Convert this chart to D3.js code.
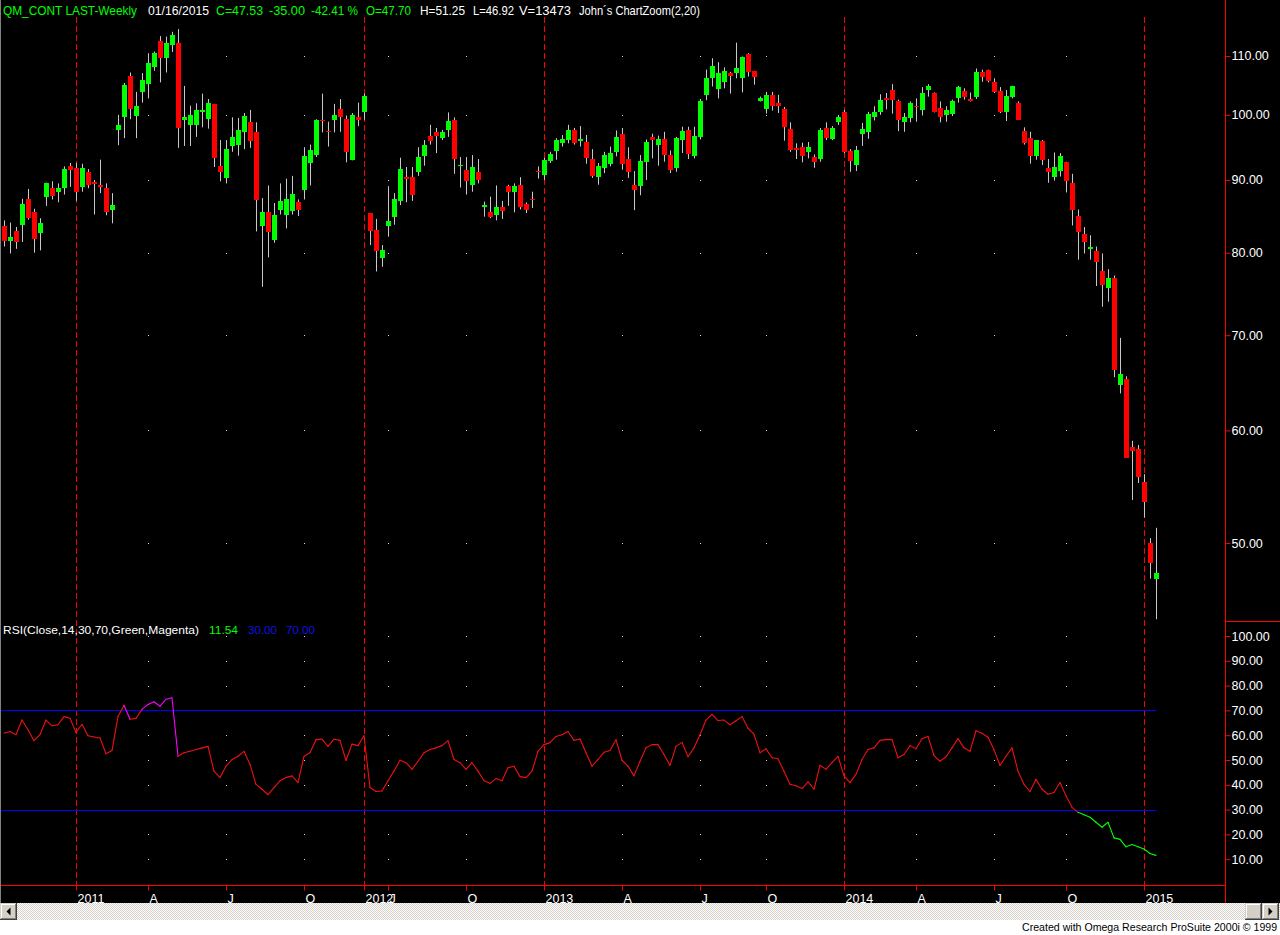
<!DOCTYPE html>
<html><head><meta charset="utf-8">
<script src="https://cdn.jsdelivr.net/npm/d3@7"></script>
<style>
html,body{margin:0;padding:0;background:#fff;overflow:hidden;}
svg{display:block;}
text{font-family:"Liberation Sans",Arial,sans-serif;}
</style></head><body>
<svg id="chart" width="1280" height="935"></svg>
<script>
// ---- weekly OHLC (QM continuous, Oct 2010 - Jan 2015) ----
const opens=[83.6,81.5,82.8,83.7,87.2,85.4,82.6,87.5,88.9,88.3,88.8,92.0,91.8,89.0,91.2,89.7,89.3,88.9,85.7,97.6,
99.6,106.5,99.8,103.8,105.1,108.1,112.7,109.6,111.9,112.4,99.1,98.4,98.4,100.4,99.4,101.8,92.0,90.3,95.1,95.3,
97.3,98.9,97.2,83.5,85.4,81.6,85.7,85.1,85.6,86.9,88.5,92.5,93.7,99.2,97.5,99.1,100.9,99.4,93.0,99.7,
100.5,85.3,83.0,79.3,83.5,84.8,87.0,90.4,90.5,91.1,93.5,96.7,97.2,96.3,97.6,99.2,92.1,91.5,89.2,91.1,
86.2,85.4,85.1,86.2,89.1,88.2,89.3,86.5,87.3,91.3,90.7,92.8,94.3,95.6,96.0,97.6,95.8,95.7,93.1,90.5,
91.7,92.3,94.2,97.0,93.1,89.3,89.1,92.6,96.5,95.3,96.1,93.7,91.8,96.0,97.6,93.6,96.5,103.2,106.1,104.3,
105.5,107.0,107.0,106.1,110.4,107.3,102.3,100.9,103.3,102.0,100.9,97.7,94.8,94.9,94.1,93.4,93.1,97.9,96.2,98.8,
100.4,94.3,92.2,97.0,97.3,99.6,100.4,102.7,104.1,102.3,98.9,99.5,101.4,100.8,104.1,103.6,101.1,99.9,100.1,102.7,
104.0,102.6,102.9,107.1,107.6,105.5,104.0,100.5,102.9,102.0,97.4,96.3,93.6,95.9,91.8,90.4,91.3,92.6,89.6,84.9,
82.5,80.5,80.2,77.7,75.5,76.8,64.6,65.2,58.4,58.2,55.2,50.0,47.2];
const highs=[84.3,84.0,83.4,87.3,88.7,85.9,84.6,89.6,89.8,89.5,92.0,92.5,92.5,92.4,91.6,90.0,93.0,89.5,88.1,100.0,
105.3,107.1,103.8,107.0,110.5,110.8,113.6,113.5,114.4,114.9,104.8,101.5,101.9,103.5,102.6,101.8,96.0,96.0,99.6,99.5,
100.3,100.8,98.8,87.4,89.2,86.7,89.5,90.2,90.6,87.2,94.9,95.3,99.3,103.5,98.9,101.8,102.6,99.9,100.3,102.0,
103.5,85.3,84.5,81.0,89.1,88.1,93.3,91.9,91.9,94.9,96.0,98.4,97.9,97.6,100.4,99.6,93.4,93.4,93.7,93.1,
86.9,87.6,89.2,87.0,89.3,89.5,90.4,86.8,88.3,92.0,93.3,94.2,96.3,96.8,98.4,97.9,98.2,96.8,94.6,92.5,
94.2,95.0,97.5,97.9,94.9,91.3,93.7,96.1,97.0,96.7,97.3,94.4,96.5,98.1,98.1,98.1,102.6,107.6,109.6,108.9,
108.0,107.2,112.4,109.9,110.5,107.4,103.0,103.8,103.8,103.3,101.3,98.8,95.5,95.6,95.7,93.8,97.9,98.8,98.2,100.0,
100.8,94.6,95.1,98.7,100.5,101.4,103.4,103.6,105.1,102.5,100.3,102.2,102.7,104.6,105.1,103.7,102.2,101.4,102.5,104.8,
104.4,103.7,107.8,107.6,107.6,106.1,104.6,104.1,104.8,102.2,98.0,97.3,96.0,96.0,93.1,94.1,94.0,92.7,90.9,85.8,
83.4,82.3,80.8,79.9,77.9,77.1,69.7,65.5,59.0,58.6,55.9,50.4,51.25];
const lows=[80.8,79.9,80.5,81.4,84.4,80.0,80.3,86.3,87.2,86.8,87.9,89.0,87.0,88.3,88.8,85.1,88.1,85.0,83.9,95.2,
96.3,99.3,96.3,102.0,102.7,107.4,105.4,107.1,110.7,94.8,95.1,95.1,96.5,98.0,97.8,91.9,89.8,89.5,94.2,93.6,
94.6,94.8,82.8,75.7,79.4,81.3,85.1,83.2,85.1,84.9,87.2,89.2,93.4,97.2,95.0,97.2,97.3,92.6,92.9,98.2,
99.2,81.0,77.6,78.2,82.1,83.7,86.4,86.8,87.0,90.6,92.1,95.3,94.0,96.0,96.5,90.9,88.9,87.9,88.3,89.5,
84.8,84.6,84.3,84.5,86.3,85.4,85.8,85.3,86.0,90.2,90.0,92.5,93.0,95.0,95.5,95.3,95.0,92.4,90.3,89.3,
91.0,92.0,93.5,91.5,90.3,85.7,87.8,90.0,93.2,92.1,92.7,91.0,91.2,94.0,93.1,93.2,96.1,102.4,104.7,102.7,
104.4,103.5,106.1,103.7,106.4,105.0,102.2,100.2,100.7,100.3,95.9,94.2,93.1,92.6,93.2,91.8,92.7,96.0,96.0,98.4,
94.0,91.2,91.3,95.1,96.2,99.1,100.0,100.9,100.2,97.4,97.3,98.8,98.9,99.9,103.0,100.4,98.8,98.9,99.8,102.0,
102.5,102.2,102.6,105.5,105.4,103.6,100.3,99.0,102.7,99.2,95.3,92.4,93.0,92.2,89.6,89.9,90.5,88.2,83.6,79.1,
79.9,79.1,75.8,73.3,73.9,65.4,63.7,57.4,53.6,55.1,52.1,47.2,44.2];
const closes=[81.5,82.1,81.4,86.5,84.6,81.8,84.0,89.5,87.7,88.8,91.6,91.4,88.3,91.8,89.2,89.4,89.0,85.4,86.4,98.4,
104.9,101.0,101.5,105.8,108.7,110.5,109.6,112.4,113.8,97.9,99.7,100.0,100.8,100.8,101.9,93.2,91.1,94.6,96.5,97.6,
99.8,95.9,87.1,85.5,82.7,85.1,87.0,87.3,88.0,85.7,93.5,94.5,99.2,99.0,97.4,100.0,99.6,94.1,100.0,99.1,
103.1,82.9,80.2,80.4,84.2,87.2,91.6,90.1,87.9,93.4,95.3,95.9,96.7,97.2,99.0,93.1,92.2,89.9,91.9,90.0,
86.4,84.8,86.2,85.6,88.3,89.1,86.2,85.7,87.1,91.2,93.0,93.9,96.0,96.1,97.6,95.6,96.1,93.3,90.6,92.0,
93.7,94.0,96.5,92.4,91.1,88.6,92.8,95.7,96.0,96.1,93.7,91.5,96.3,97.5,93.9,96.7,102.2,106.1,108.3,107.0,
107.4,106.5,107.9,109.8,107.2,106.3,102.8,103.3,101.4,101.4,98.0,94.5,94.4,93.6,94.9,92.7,97.6,96.3,97.9,99.6,
94.2,92.8,94.5,97.8,100.2,100.5,102.5,102.5,102.5,99.1,99.6,102.0,101.2,103.6,104.7,100.5,99.7,100.8,102.3,104.6,
102.9,102.2,107.1,106.4,105.7,103.8,100.5,103.1,104.8,99.2,95.5,93.6,96.0,92.9,91.2,91.9,93.6,89.8,85.7,82.7,
81.4,80.8,78.8,75.9,76.8,66.2,65.7,57.4,58.0,55.6,53.4,48.4,47.6];
// ---- RSI(Close,14) ----
const rsiValues=[60.8,61.5,60.2,66.1,62.2,57.8,60.2,66.1,63.8,64.2,
67.5,66.8,61.1,64.4,59.8,59.3,58.9,52.5,53.8,67.5,
72.1,66.4,66.8,70.4,72.4,73.5,71.7,74.5,75.1,51.5,
52.9,53.5,54.2,54.9,55.5,45.5,42.9,47.5,50.2,51.5,
53.5,48.2,40.2,38.2,36.0,38.9,41.6,42.9,43.6,40.9,
51.5,52.9,58.2,58.4,55.5,58.4,57.9,49.8,56.4,55.8,
59.8,38.9,37.3,37.5,41.6,45.5,49.9,48.9,46.2,49.5,
52.9,54.2,54.9,55.8,57.8,50.2,48.9,46.2,48.9,45.5,
41.6,40.6,42.5,41.6,46.9,47.5,43.3,42.9,45.5,53.5,
56.2,57.0,59.5,60.2,61.5,57.9,58.5,52.9,47.5,50.2,
53.1,53.8,58.2,49.9,47.5,43.6,49.5,54.9,56.2,56.2,
52.2,47.8,55.5,57.1,51.3,54.9,60.2,66.1,68.4,65.9,
66.1,64.2,65.8,67.5,62.8,60.4,52.9,54.5,50.9,50.5,
45.5,40.2,39.6,38.5,41.2,38.2,47.9,46.2,48.9,51.5,
43.6,40.9,44.2,50.2,54.2,54.9,57.9,58.2,58.2,50.9,
52.2,55.8,54.5,58.6,59.5,51.8,49.5,51.3,54.9,58.6,
54.9,53.5,61.8,60.8,59.2,54.2,47.8,51.5,54.9,45.5,
40.2,37.3,42.2,38.2,36.2,36.9,40.9,35.6,30.9,28.9,
27.9,26.9,24.9,22.9,24.9,18.6,18.0,15.0,15.9,15.0,
14.1,12.3,11.54];
const rsiLevels=[30,70];
// ---- axis ticks ----
const yearTickIndex=[12,60,90,140,190];
const yearTickLabels=["2011","2012","2013","2014","2015"];
const monthTickIndex=[24,37,50,64,77,103,116,127,152,165,177];
const monthTickLabels=["A","J","O","J","O","A","J","O","A","J","O"];
const priceTicks=[110,100,90,80,70,60,50];
const rsiTicks=[100,90,80,70,60,50,40,30,20,10];

const N=closes.length;
const C={green:"#00ff00",red:"#ff0000",wick:"#c8c8c8",axis:"#ff0000",blue:"#0000ff",mag:"#ff00ff",white:"#ffffff"};
const svg=d3.select("#chart");
svg.append("rect").attr("width",1280).attr("height",935).attr("fill","#000");

const x=d3.scaleLinear().domain([0,N-1]).range([4,1156]);
const yP=d3.scaleLog().domain([44.0,116.6]).range([622,20]);
const yR=d3.scaleLinear().domain([0,100]).range([884,636]);
const px=i=>Math.round(x(i));

// grid dots
const dots=svg.append("g").attr("fill","#d8d8d8");
monthTickIndex.forEach(i=>{
  priceTicks.forEach(p=>dots.append("rect").attr("x",px(i)).attr("y",Math.round(yP(p))).attr("width",1).attr("height",1));
  rsiTicks.forEach(v=>dots.append("rect").attr("x",px(i)).attr("y",Math.round(yR(v))).attr("width",1).attr("height",1));
});

// year dashed lines
svg.append("g").selectAll("line").data(yearTickIndex).join("line")
  .attr("x1",i=>px(i)+0.5).attr("x2",i=>px(i)+0.5).attr("y1",17).attr("y2",890)
  .attr("stroke",C.axis).attr("stroke-width",1).attr("stroke-dasharray","6,3");

// candles
const idx=d3.range(N);
const cg=svg.append("g");
cg.selectAll("line").data(idx).join("line")
  .attr("x1",i=>px(i)+0.5).attr("x2",i=>px(i)+0.5)
  .attr("y1",i=>yP(highs[i])).attr("y2",i=>yP(lows[i]))
  .attr("stroke",C.wick).attr("stroke-width",1);
cg.selectAll("rect").data(idx).join("rect")
  .attr("x",i=>px(i)-2).attr("width",5)
  .attr("y",i=>Math.round(yP(Math.max(opens[i],closes[i]))))
  .attr("height",i=>Math.max(1,Math.round(yP(Math.min(opens[i],closes[i])))-Math.round(yP(Math.max(opens[i],closes[i])))))
  .attr("fill",i=>closes[i]>=opens[i]?C.green:C.red);

// RSI levels
svg.append("g").selectAll("line").data(rsiLevels).join("line")
  .attr("x1",0).attr("x2",x(N-1)).attr("y1",v=>Math.round(yR(v))+0.5).attr("y2",v=>Math.round(yR(v))+0.5)
  .attr("stroke",C.blue).attr("stroke-width",1);

// RSI line segments
const segs=d3.pairs(idx);
svg.append("g").selectAll("line").data(segs).join("line")
  .attr("x1",d=>x(d[0])).attr("x2",d=>x(d[1]))
  .attr("y1",d=>yR(rsiValues[d[0]])).attr("y2",d=>yR(rsiValues[d[1]]))
  .attr("stroke",d=>rsiValues[d[0]]>70?C.mag:(rsiValues[d[0]]<30?C.green:"#ee1111"))
  .attr("stroke-width",1.1).attr("stroke-linecap","round");

// right axes
const rightX=1225;
const pa=svg.append("g").attr("transform",`translate(${rightX+0.5},0)`)
  .call(d3.axisRight(yP).tickValues(priceTicks).tickFormat(d3.format(".2f")).tickSize(5).tickPadding(1));
const ra=svg.append("g").attr("transform",`translate(${rightX+0.5},0)`)
  .call(d3.axisRight(yR).tickValues(rsiTicks).tickFormat(d3.format(".2f")).tickSize(5).tickPadding(1));
[pa,ra].forEach(g=>{
  g.select(".domain").remove();
  g.selectAll(".tick line").attr("stroke",C.axis);
  g.selectAll(".tick text").attr("fill",C.white).attr("font-size",12.5).attr("font-family","Liberation Sans, Arial, sans-serif");
});
svg.append("line").attr("x1",rightX+0.5).attr("x2",rightX+0.5).attr("y1",0).attr("y2",903).attr("stroke",C.axis);
svg.append("line").attr("x1",rightX).attr("x2",1280).attr("y1",621.5).attr("y2",621.5).attr("stroke",C.axis);

// bottom axis
svg.append("line").attr("x1",0).attr("x2",rightX).attr("y1",885.5).attr("y2",885.5).attr("stroke",C.axis);
const allTicks=yearTickIndex.map((d,k)=>({i:d,l:yearTickLabels[k]})).concat(monthTickIndex.map((d,k)=>({i:d,l:monthTickLabels[k]})));
const labelOf=new Map(allTicks.map(t=>[t.i,t.l]));
const ba=svg.append("g").attr("transform","translate(0,885.5)")
  .call(d3.axisBottom(x).tickValues(allTicks.map(t=>t.i)).tickFormat(i=>labelOf.get(i)).tickSize(5).tickPadding(4));
ba.select(".domain").remove();
ba.selectAll(".tick").attr("transform",i=>`translate(${px(i)+0.5},0)`);
ba.selectAll(".tick line").attr("stroke",C.axis);
ba.selectAll(".tick text").attr("fill",C.white).attr("text-anchor","start").attr("x",1).attr("dy","0.71em")
  .attr("font-size",12.5).attr("font-family","Liberation Sans, Arial, sans-serif");

// left border
svg.append("line").attr("x1",0.5).attr("x2",0.5).attr("y1",0).attr("y2",903).attr("stroke","#808080");

// header
const hdr=[["QM_CONT LAST-Weekly",3,C.green,134],["01/16/2015",148,C.white,61],["C=47.53",216,C.green,47],
 ["-35.00",269,C.green,36],["-42.41 %",311,C.green,47],["O=47.70",366,C.green,45],["H=51.25",420,C.white,45],
 ["L=46.92",473,C.white,41],["V=13473",519,C.white,52],["John´s ChartZoom(2,20)",579,C.white,121]];
const hg=svg.append("g").attr("font-size",13);
hdr.forEach(h=>hg.append("text").attr("x",h[1]).attr("y",15).attr("fill",h[2]).attr("textLength",h[3]).attr("lengthAdjust","spacingAndGlyphs").text(h[0]));
const rl=[["RSI(Close,14,30,70,Green,Magenta)",3,C.white,196],[d3.format(".2f")(rsiValues[N-1]),209,C.green,29],
 [d3.format(".2f")(rsiLevels[0]),248,"#1010e0",29],[d3.format(".2f")(rsiLevels[1]),286,"#1010e0",29]];
const rg=svg.append("g").attr("font-size",11.5);
rl.forEach(h=>rg.append("text").attr("x",h[1]).attr("y",634).attr("fill",h[2]).attr("textLength",h[3]).attr("lengthAdjust","spacingAndGlyphs").text(h[0]));

// scrollbar
const defs=svg.append("defs");
const pat=defs.append("pattern").attr("id","stip").attr("width",2).attr("height",2).attr("patternUnits","userSpaceOnUse");
pat.append("rect").attr("width",2).attr("height",2).attr("fill","#ffffff");
pat.append("rect").attr("width",1).attr("height",1).attr("fill","#d4d0c8");
pat.append("rect").attr("x",1).attr("y",1).attr("width",1).attr("height",1).attr("fill","#d4d0c8");
svg.append("rect").attr("x",0).attr("y",903).attr("width",1280).attr("height",17).attr("fill","url(#stip)");
svg.append("rect").attr("x",0).attr("y",920).attr("width",1280).attr("height",15).attr("fill","#ffffff");
function button(bx,by,w,h,arrow){
  const g=svg.append("g");
  g.append("rect").attr("x",bx).attr("y",by).attr("width",w).attr("height",h).attr("fill","#404040");
  g.append("rect").attr("x",bx).attr("y",by).attr("width",w-1).attr("height",h-1).attr("fill","#d4d0c8");
  g.append("rect").attr("x",bx+1).attr("y",by+1).attr("width",w-2).attr("height",h-2).attr("fill","#808080");
  g.append("rect").attr("x",bx+1).attr("y",by+1).attr("width",w-3).attr("height",h-3).attr("fill","#ffffff");
  g.append("rect").attr("x",bx+2).attr("y",by+2).attr("width",w-4).attr("height",h-4).attr("fill","#d4d0c8");
  const cx=bx+w/2, cy=by+h/2;
  if(arrow==="l") g.append("path").attr("d",`M${cx-2},${cy} L${cx+2},${cy-4} L${cx+2},${cy+4}Z`).attr("fill","#000");
  if(arrow==="r") g.append("path").attr("d",`M${cx+2},${cy} L${cx-2},${cy-4} L${cx-2},${cy+4}Z`).attr("fill","#000");
}
button(0,903,17,17,"l");
button(1245,903,17,17,null);
button(1262,903,17,17,"r");

// footer
svg.append("text").attr("x",1022).attr("y",931).attr("text-anchor","start").attr("font-size",10.6).attr("fill","#000")
  .text("Created with Omega Research ProSuite 2000i © 1999");
</script>
</body></html>
